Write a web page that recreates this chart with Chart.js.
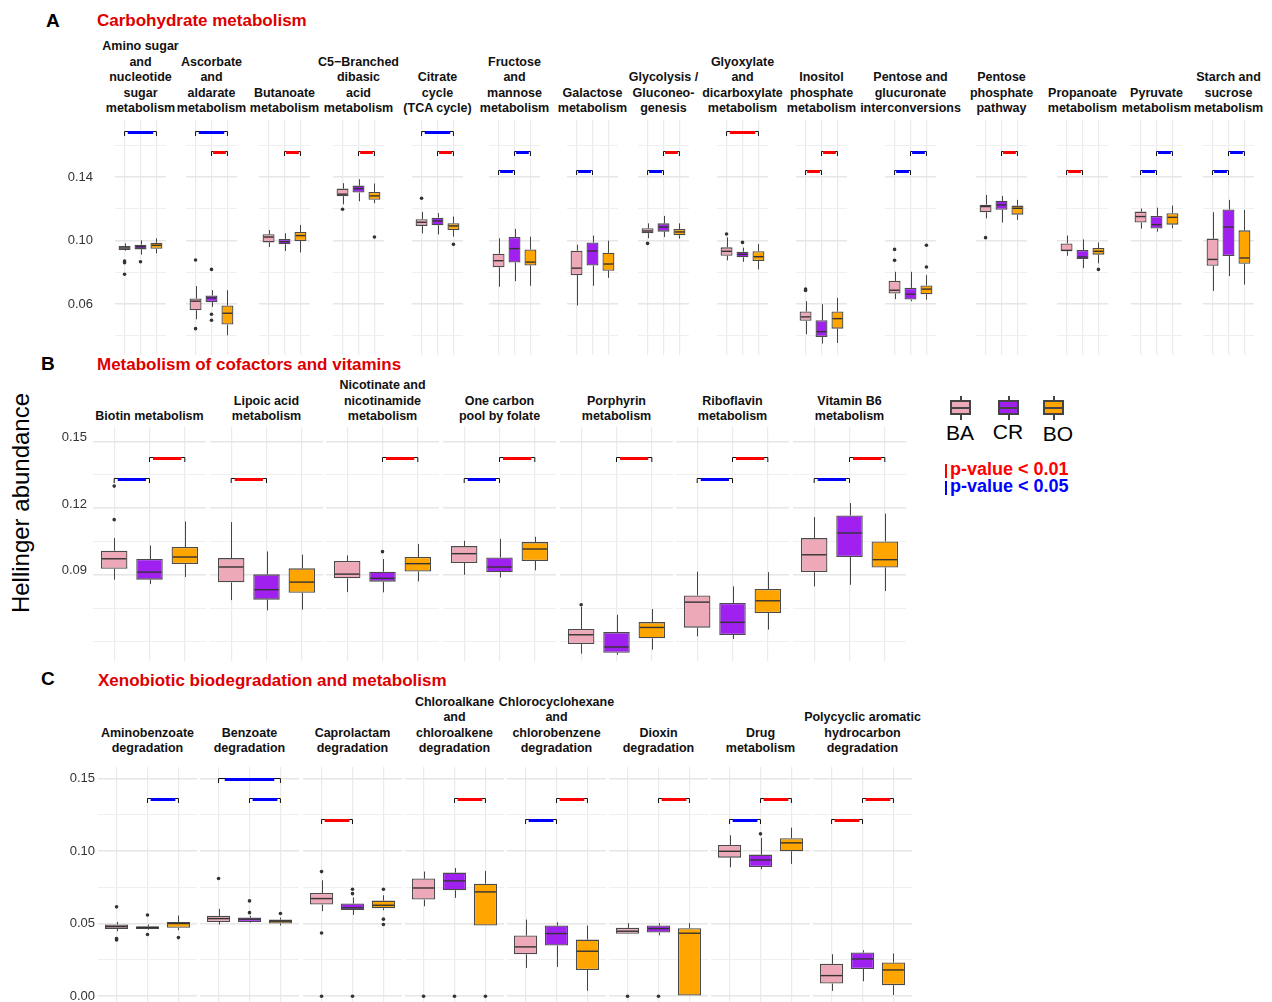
<!DOCTYPE html>
<html>
<head>
<meta charset="utf-8">
<title>Hellinger abundance of KEGG pathways</title>
<script src="https://cdn.jsdelivr.net/npm/chart.js@4.4.1/dist/chart.umd.min.js"></script>
<style>
  html, body { margin: 0; padding: 0; background: #fff; }
  #fig { position: relative; width: 1272px; height: 1002px; overflow: hidden;
         font-family: "Liberation Sans", Arial, sans-serif; color: #000; }
  #fig canvas { position: absolute; }
  .abs { position: absolute; white-space: nowrap; }
  .letter { font-weight: bold; font-size: 19px; line-height: 20px; }
  .ptitle { font-weight: bold; font-size: 17px; line-height: 20px; color: #dd0000; }
  .strip { position: absolute; width: 170px; text-align: center; font-weight: bold;
           font-size: 12.5px; line-height: 15.6px; white-space: pre-line; color: #111; }
  .ytitle { position: absolute; width: 300px; height: 28px; line-height: 28px; text-align: center;
            font-size: 24px; transform: rotate(-90deg); }
  .key { position: absolute; width: 21px; height: 24px; }
  .key .wh { position: absolute; left: 9.5px; top: 0; width: 2px; height: 24px; background: #444; }
  .key .bx { position: absolute; left: 0; top: 4px; width: 17px; height: 11px; border: 2px solid #444; }
  .key .md { position: absolute; left: 0; top: 10.5px; width: 21px; height: 2px; background: #444; }
  .klab { position: absolute; width: 50px; text-align: center; font-size: 21px; line-height: 24px; }
  .pval { position: absolute; font-weight: bold; font-size: 18px; line-height: 17px; white-space: nowrap; }
  .pbar { position: absolute; width: 2px; height: 14px; }
</style>
</head>
<body>
<div id="fig">
  <div class="abs letter" style="left:46px; top:11px;">A</div>
  <div class="abs ptitle" style="left:97px; top:11px;">Carbohydrate metabolism</div>
  <div class="abs letter" style="left:41px; top:354px;">B</div>
  <div class="abs ptitle" style="left:97px; top:355px;">Metabolism of cofactors and vitamins</div>
  <div class="abs letter" style="left:41px; top:669px;">C</div>
  <div class="abs ptitle" style="left:98px; top:671px;">Xenobiotic biodegradation and metabolism</div>
  <div class="ytitle" style="left:-129px; top:489px;">Hellinger abundance</div>

  <div class="key" style="left:950px; top:396px;"><div class="wh"></div><div class="bx" style="background:#EEA9B8;"></div><div class="md"></div></div>
  <div class="key" style="left:998px; top:396px;"><div class="wh"></div><div class="bx" style="background:#A020F0;"></div><div class="md"></div></div>
  <div class="key" style="left:1043px; top:396px;"><div class="wh"></div><div class="bx" style="background:#FFA500;"></div><div class="md"></div></div>
  <div class="klab" style="left:935px; top:421px;">BA</div>
  <div class="klab" style="left:983px; top:420px;">CR</div>
  <div class="klab" style="left:1033px; top:422px;">BO</div>
  <div class="pbar" style="left:945px; top:464px; background:#ff0000;"></div>
  <div class="pval" style="left:950px; top:461px; color:#ff0000;">p-value &lt; 0.01</div>
  <div class="pbar" style="left:945px; top:481px; background:#0000ff;"></div>
  <div class="pval" style="left:950px; top:478px; color:#0000ff;">p-value &lt; 0.05</div>
</div>

<script>
var GROUP_COLORS = ["#EEA9B8", "#A020F0", "#FFA500"];   // BA, CR, BO
var SIG_COLORS = { "0.01": "#ff0000", "0.05": "#0000ff" };

/* ---------- A: Carbohydrate metabolism ---------- */
var facetsA = [
  "Amino sugar\nand\nnucleotide\nsugar\nmetabolism", "Ascorbate\nand\naldarate\nmetabolism",
  "Butanoate\nmetabolism", "C5\u2212Branched\ndibasic\nacid\nmetabolism", "Citrate\ncycle\n(TCA cycle)",
  "Fructose\nand\nmannose\nmetabolism", "Galactose\nmetabolism", "Glycolysis /\nGluconeo-\ngenesis",
  "Glyoxylate\nand\ndicarboxylate\nmetabolism", "Inositol\nphosphate\nmetabolism",
  "Pentose and\nglucuronate\ninterconversions", "Pentose\nphosphate\npathway", "Propanoate\nmetabolism",
  "Pyruvate\nmetabolism", "Starch and\nsucrose\nmetabolism"
];
// [lower whisker, Q1, median, Q3, upper whisker]
var baA = [
  [0.0937, 0.0941, 0.0954, 0.0966, 0.0983], [0.0505, 0.0562, 0.0619, 0.0636, 0.0714],
  [0.0960, 0.0989, 0.1023, 0.1040, 0.1067], [0.1229, 0.1280, 0.1293, 0.1328, 0.1362],
  [0.1046, 0.1093, 0.1116, 0.1135, 0.1181], [0.0710, 0.0832, 0.0874, 0.0918, 0.1015],
  [0.0592, 0.0783, 0.0827, 0.0937, 0.0975], [0.1015, 0.1047, 0.1061, 0.1078, 0.1109],
  [0.0876, 0.0905, 0.0933, 0.0958, 0.1021], [0.0411, 0.0495, 0.0520, 0.0554, 0.0619],
  [0.0632, 0.0667, 0.0688, 0.0747, 0.0804], [0.1141, 0.1179, 0.1215, 0.1227, 0.1288],
  [0.0905, 0.0933, 0.0939, 0.0983, 0.1032], [0.1076, 0.1114, 0.1152, 0.1183, 0.1202],
  [0.0684, 0.0842, 0.0882, 0.1013, 0.1179]
];
var crA = [
  [0.0912, 0.0945, 0.0962, 0.0975, 0.1002], [0.0583, 0.0613, 0.0640, 0.0655, 0.0688],
  [0.0935, 0.0977, 0.0994, 0.1011, 0.1046], [0.1248, 0.1303, 0.1328, 0.1347, 0.1387],
  [0.1040, 0.1097, 0.1124, 0.1145, 0.1173], [0.0745, 0.0863, 0.0950, 0.1023, 0.1074],
  [0.0716, 0.0844, 0.0935, 0.0989, 0.1032], [0.1023, 0.1057, 0.1086, 0.1109, 0.1156],
  [0.0867, 0.0895, 0.0914, 0.0931, 0.0956], [0.0352, 0.0394, 0.0427, 0.0499, 0.0600],
  [0.0619, 0.0629, 0.0663, 0.0703, 0.0804], [0.1114, 0.1194, 0.1225, 0.1251, 0.1282],
  [0.0827, 0.0884, 0.0897, 0.0941, 0.1008], [0.1057, 0.1076, 0.1101, 0.1156, 0.1208],
  [0.0777, 0.0903, 0.1086, 0.1196, 0.1257]
];
var boA = [
  [0.0920, 0.0949, 0.0971, 0.0987, 0.1015], [0.0404, 0.0472, 0.0543, 0.0592, 0.0688],
  [0.0926, 0.0998, 0.1032, 0.1055, 0.1099], [0.1236, 0.1257, 0.1282, 0.1307, 0.1360],
  [0.1025, 0.1067, 0.1093, 0.1110, 0.1152], [0.0716, 0.0844, 0.0865, 0.0945, 0.1025],
  [0.0766, 0.0811, 0.0853, 0.0924, 0.1000], [0.1013, 0.1034, 0.1055, 0.1074, 0.1109],
  [0.0819, 0.0872, 0.0899, 0.0933, 0.0979], [0.0356, 0.0446, 0.0509, 0.0554, 0.0640],
  [0.0629, 0.0663, 0.0695, 0.0718, 0.0783], [0.1131, 0.1164, 0.1204, 0.1221, 0.1257],
  [0.0857, 0.0912, 0.0933, 0.0954, 0.0989], [0.1078, 0.1101, 0.1147, 0.1173, 0.1221],
  [0.0724, 0.0855, 0.0891, 0.1065, 0.1194]
];
// outliers as [facet, value]
var outBA_A = [[0, 0.0872], [0, 0.0861], [0, 0.0789], [1, 0.0878], [1, 0.0446], [3, 0.1198], [4, 0.1267],
  [7, 0.0983], [8, 0.1042], [9, 0.0695], [9, 0.0686], [10, 0.0945], [10, 0.0876], [11, 0.1019]];
var outCR_A = [[0, 0.0867], [1, 0.0819], [1, 0.0537], [1, 0.0499], [8, 0.0989]];
var outBO_A = [[3, 0.1023], [4, 0.0977], [10, 0.0971], [10, 0.0834], [12, 0.0819]];
// significance: [facet, from group, to group, bracket height, p]
var sigA = [
  [0, 1, 3, 0.1693, "0.05"], [1, 1, 3, 0.1693, "0.05"], [1, 2, 3, 0.1567, "0.01"], [2, 2, 3, 0.1567, "0.01"],
  [3, 2, 3, 0.1567, "0.01"], [4, 1, 3, 0.1693, "0.05"], [4, 2, 3, 0.1567, "0.01"], [5, 1, 2, 0.1446, "0.05"],
  [5, 2, 3, 0.1567, "0.05"], [6, 1, 2, 0.1446, "0.05"], [7, 1, 2, 0.1446, "0.05"], [7, 2, 3, 0.1567, "0.01"],
  [8, 1, 3, 0.1693, "0.01"], [9, 1, 2, 0.1446, "0.01"], [9, 2, 3, 0.1567, "0.01"], [10, 1, 2, 0.1446, "0.05"],
  [10, 2, 3, 0.1567, "0.05"], [11, 2, 3, 0.1567, "0.01"], [12, 1, 2, 0.1446, "0.01"], [13, 1, 2, 0.1446, "0.05"],
  [13, 2, 3, 0.1567, "0.05"], [14, 1, 2, 0.1446, "0.05"], [14, 2, 3, 0.1567, "0.05"]
];
var yGridA = [0.04, 0.06, 0.08, 0.10, 0.12, 0.14, 0.16];
var yTicksA = [0.06, 0.10, 0.14];
var yRangeA = [0.028, 0.176];

/* ---------- B: Metabolism of cofactors and vitamins ---------- */
var facetsB = [
  "Biotin metabolism", "Lipoic acid\nmetabolism", "Nicotinate and\nnicotinamide\nmetabolism",
  "One carbon\npool by folate", "Porphyrin\nmetabolism", "Riboflavin\nmetabolism", "Vitamin B6\nmetabolism"
];
var baB = [
  [0.0878, 0.0927, 0.0972, 0.1008, 0.1065], [0.0786, 0.0866, 0.0935, 0.0975, 0.1137],
  [0.0822, 0.0884, 0.0903, 0.0962, 0.0987], [0.0900, 0.0953, 0.0995, 0.1029, 0.1053],
  [0.0545, 0.0588, 0.0630, 0.0656, 0.0755], [0.0623, 0.0662, 0.0777, 0.0807, 0.0914],
  [0.0848, 0.0912, 0.0990, 0.1065, 0.1160]
];
var crB = [
  [0.0858, 0.0878, 0.0912, 0.0971, 0.1032], [0.0740, 0.0788, 0.0833, 0.0902, 0.1005],
  [0.0821, 0.0869, 0.0884, 0.0914, 0.0971], [0.0888, 0.0911, 0.0935, 0.0978, 0.1062],
  [0.0540, 0.0549, 0.0575, 0.0642, 0.0720], [0.0611, 0.0629, 0.0686, 0.0773, 0.0848],
  [0.0855, 0.0980, 0.1088, 0.1167, 0.1223]
];
var boB = [
  [0.0890, 0.0948, 0.0980, 0.1025, 0.1140], [0.0743, 0.0819, 0.0867, 0.0929, 0.0990],
  [0.0870, 0.0915, 0.0950, 0.0980, 0.1038], [0.0920, 0.0962, 0.1016, 0.1047, 0.1071],
  [0.0563, 0.0614, 0.0663, 0.0687, 0.0746], [0.0653, 0.0728, 0.0783, 0.0836, 0.0912],
  [0.0827, 0.0933, 0.0968, 0.1050, 0.1175]
];
var outBA_B = [[0, 0.1299], [0, 0.1148], [4, 0.0765]];
var outCR_B = [[2, 0.1004]];
var outBO_B = [];
var sigB = [
  [0, 1, 2, 0.1335, "0.05"], [0, 2, 3, 0.1428, "0.01"], [1, 1, 2, 0.1335, "0.01"], [2, 2, 3, 0.1428, "0.01"],
  [3, 1, 2, 0.1335, "0.05"], [3, 2, 3, 0.1428, "0.01"], [4, 2, 3, 0.1428, "0.01"], [5, 1, 2, 0.1335, "0.05"],
  [5, 2, 3, 0.1428, "0.01"], [6, 1, 2, 0.1335, "0.05"], [6, 2, 3, 0.1428, "0.01"]
];
var yGridB = [0.06, 0.075, 0.09, 0.105, 0.12, 0.135, 0.15];
var yTicksB = [0.09, 0.12, 0.15];
var yRangeB = [0.0512, 0.1565];

/* ---------- C: Xenobiotic biodegradation and metabolism ---------- */
var facetsC = [
  "Aminobenzoate\ndegradation", "Benzoate\ndegradation", "Caprolactam\ndegradation",
  "Chloroalkane\nand\nchloroalkene\ndegradation", "Chlorocyclohexane\nand\nchlorobenzene\ndegradation",
  "Dioxin\ndegradation", "Drug\nmetabolism", "Polycyclic aromatic\nhydrocarbon\ndegradation"
];
var baC = [
  [0.0448, 0.0464, 0.0480, 0.0494, 0.0512], [0.0494, 0.0512, 0.0535, 0.0554, 0.0602],
  [0.0586, 0.0632, 0.0673, 0.0712, 0.0799], [0.0620, 0.0666, 0.0746, 0.0811, 0.0859],
  [0.0195, 0.0289, 0.0340, 0.0418, 0.0528], [0.0430, 0.0430, 0.0448, 0.0471, 0.0503],
  [0.0889, 0.0955, 0.0999, 0.1043, 0.1109], [0.0037, 0.0087, 0.0142, 0.0223, 0.0289]
];
var crC = [
  [0.0459, 0.0464, 0.0473, 0.0482, 0.0494], [0.0508, 0.0512, 0.0531, 0.0542, 0.0554],
  [0.0560, 0.0595, 0.0609, 0.0639, 0.0680], [0.0678, 0.0730, 0.0795, 0.0852, 0.0884],
  [0.0202, 0.0349, 0.0432, 0.0487, 0.0510], [0.0420, 0.0439, 0.0466, 0.0487, 0.0503],
  [0.0875, 0.0891, 0.0939, 0.0976, 0.1091], [0.0103, 0.0188, 0.0257, 0.0301, 0.0317]
];
var boC = [
  [0.0455, 0.0471, 0.0501, 0.0512, 0.0556], [0.0487, 0.0501, 0.0517, 0.0528, 0.0542],
  [0.0593, 0.0606, 0.0627, 0.0659, 0.0696], [0.0487, 0.0487, 0.0719, 0.0776, 0.0864],
  [0.0037, 0.0181, 0.0310, 0.0390, 0.0487], [0.0000, 0.0000, 0.0434, 0.0469, 0.0503],
  [0.0912, 0.0999, 0.1057, 0.1089, 0.1162], [0.0009, 0.0076, 0.0181, 0.0232, 0.0294]
];
var outBA_C = [[0, 0.0616], [0, 0.0397], [0, 0.0388], [1, 0.0811], [2, 0.0859], [2, 0.0436], [2, 0], [3, 0], [5, 0]];
var outCR_C = [[0, 0.0560], [0, 0.0425], [1, 0.0657], [1, 0.0576], [2, 0.0737], [2, 0.0707], [2, 0], [3, 0],
  [5, 0], [6, 0.1119]];
var outBO_C = [[0, 0.0404], [1, 0.0570], [2, 0.0737], [2, 0.0531], [2, 0.0494], [3, 0]];
var sigC = [
  [0, 2, 3, 0.1364, "0.05"], [1, 1, 3, 0.1504, "0.05"], [1, 2, 3, 0.1364, "0.05"], [2, 1, 2, 0.1222, "0.01"],
  [3, 2, 3, 0.1364, "0.01"], [4, 1, 2, 0.1222, "0.05"], [4, 2, 3, 0.1364, "0.01"], [5, 2, 3, 0.1364, "0.01"],
  [6, 1, 2, 0.1222, "0.05"], [6, 2, 3, 0.1364, "0.01"], [7, 1, 2, 0.1222, "0.01"], [7, 2, 3, 0.1364, "0.01"]
];
var yGridC = [0, 0.025, 0.05, 0.075, 0.10, 0.125, 0.15];
var yTicksC = [0, 0.05, 0.10, 0.15];
var yRangeC = [-0.004, 0.158];

/* ---------- page layout of the facet panels ---------- */
var layoutA = { lefts: [115, 186, 259, 333, 412, 489, 567, 638, 717, 796, 885, 976, 1057, 1131, 1203],
  width: 51, top: 120, height: 235, stripBottom: 117, axisWidth: 50, axisPad: 22, labelShift: 0 };
var layoutB = { lefts: [93, 210, 326, 443, 560, 676, 793],
  width: 113, top: 427, height: 234, stripBottom: 425, axisWidth: 40, axisPad: 6, labelShift: -4 };
var layoutC = { lefts: [98, 200, 303, 405, 507, 609, 711, 813],
  width: 99, top: 767, height: 235, stripBottom: 757, axisWidth: 40, axisPad: 3, labelShift: 0 };

var fig = document.getElementById("fig");

function near(list, v) {
  for (var i = 0; i < list.length; i++) {
    if (Math.abs(list[i] - v) < 1e-9) return true;
  }
  return false;
}

// whiskers under the boxes, medians and significance brackets above them
var boxParts = {
  id: "boxParts",
  beforeDatasetsDraw: function (chart) {
    var ds = chart.data.datasets[0];
    var xs = chart.scales.x, ys = chart.scales.y, ctx = chart.ctx;
    ctx.save();
    ctx.strokeStyle = "#444";
    ctx.lineWidth = 1;
    for (var g = 0; g < ds.stats.length; g++) {
      var s = ds.stats[g];
      var x = Math.round(xs.getPixelForValue(g + 1)) + 0.5;
      ctx.beginPath();
      ctx.moveTo(x, ys.getPixelForValue(s[4]));
      ctx.lineTo(x, ys.getPixelForValue(s[3]));
      ctx.moveTo(x, ys.getPixelForValue(s[1]));
      ctx.lineTo(x, ys.getPixelForValue(s[0]));
      ctx.stroke();
    }
    ctx.restore();
  },
  afterDatasetsDraw: function (chart) {
    var ds = chart.data.datasets[0];
    var meta = chart.getDatasetMeta(0);
    var xs = chart.scales.x, ys = chart.scales.y, ctx = chart.ctx;
    ctx.save();
    ctx.strokeStyle = "#333";
    ctx.lineWidth = 1.4;
    for (var g = 0; g < ds.stats.length; g++) {
      var bar = meta.data[g];
      var y = ys.getPixelForValue(ds.stats[g][2]);
      ctx.beginPath();
      ctx.moveTo(bar.x - bar.width / 2 + 1, y);
      ctx.lineTo(bar.x + bar.width / 2 - 1, y);
      ctx.stroke();
    }
    for (var k = 0; k < ds.sig.length; k++) {
      var sg = ds.sig[k];
      var x1 = xs.getPixelForValue(sg[1]);
      var x2 = xs.getPixelForValue(sg[2]);
      var yb = Math.round(ys.getPixelForValue(sg[3])) + 0.5;
      ctx.strokeStyle = "#111";
      ctx.lineWidth = 1;
      ctx.beginPath();
      ctx.moveTo(x1, yb + 4.5);
      ctx.lineTo(x1, yb);
      ctx.lineTo(x2, yb);
      ctx.lineTo(x2, yb + 4.5);
      ctx.stroke();
      var inset = (x2 - x1) * 0.1;
      ctx.strokeStyle = SIG_COLORS[sg[4]];
      ctx.lineWidth = 3;
      ctx.beginPath();
      ctx.moveTo(x1 + inset, yb + 1);
      ctx.lineTo(x2 - inset, yb + 1);
      ctx.stroke();
    }
    ctx.restore();
  }
};

function drawPanel(facets, ba, cr, bo, outs, sig, grid, ticks, range, L) {
  for (var f = 0; f < facets.length; f++) {
    var stats = [ba[f], cr[f], bo[f]];
    var boxes = stats.map(function (s, g) { return { x: g + 1, y: [s[1], s[3]] }; });
    var points = [];
    outs.forEach(function (list, g) {
      list.forEach(function (o) { if (o[0] === f) points.push({ x: g + 1, y: o[1] }); });
    });
    var facetSig = sig.filter(function (s) { return s[0] === f; });
    var showAxis = f === 0;
    var axisW = showAxis ? L.axisWidth : 0;

    var canvas = document.createElement("canvas");
    canvas.width = L.width + axisW;
    canvas.height = L.height;
    canvas.style.left = (L.lefts[f] - axisW) + "px";
    canvas.style.top = L.top + "px";
    canvas.style.width = canvas.width + "px";
    canvas.style.height = canvas.height + "px";
    fig.appendChild(canvas);

    new Chart(canvas.getContext("2d"), {
      type: "bar",
      data: {
        datasets: [
          { type: "bar", data: boxes, stats: stats, sig: facetSig,
            backgroundColor: GROUP_COLORS, borderColor: "#4a4a4a", borderWidth: 1.3,
            borderSkipped: false, barPercentage: 0.75, categoryPercentage: 1 },
          { type: "scatter", data: points, pointRadius: 1.8, pointBackgroundColor: "#333",
            pointBorderWidth: 0 }
        ]
      },
      options: {
        responsive: false,
        animation: false,
        devicePixelRatio: 1,
        events: [],
        layout: { padding: 0, autoPadding: false },
        plugins: { legend: { display: false }, tooltip: { enabled: false } },
        scales: {
          x: {
            type: "linear", min: 0.4, max: 3.6, offset: false,
            afterBuildTicks: function (axis) { axis.ticks = [{ value: 1 }, { value: 2 }, { value: 3 }]; },
            ticks: { display: false },
            grid: { offset: false, drawTicks: false, color: "#ebebeb", lineWidth: 1.2 },
            border: { display: false }
          },
          y: {
            type: "linear", min: range[0], max: range[1],
            afterBuildTicks: function (axis) { axis.ticks = grid.map(function (v) { return { value: v }; }); },
            afterFit: function (axis) {
              axis.width = axisW;
              axis.paddingTop = 0;
              axis.paddingBottom = 0;
            },
            ticks: {
              display: showAxis, autoSkip: false, padding: L.axisPad, color: "#333",
              labelOffset: L.labelShift,
              font: { family: "'Liberation Sans Narrow', 'Liberation Sans', Arial", size: 13 },
              callback: function (v) { return near(ticks, v) ? v.toFixed(2) : ""; }
            },
            grid: {
              drawTicks: false,
              color: function (c) { return c.tick && near(ticks, c.tick.value) ? "#e6e6e6" : "#efefef"; },
              lineWidth: function (c) { return c.tick && near(ticks, c.tick.value) ? 1.4 : 1; }
            },
            border: { display: false }
          }
        }
      },
      plugins: [boxParts]
    });

    // facet strip title, bottom-aligned above the panel
    var strip = document.createElement("div");
    var lines = facets[f].split("\n").length;
    strip.className = "strip";
    strip.textContent = facets[f];
    strip.style.left = (L.lefts[f] + L.width / 2 - 85) + "px";
    strip.style.top = (L.stripBottom - lines * 15.6) + "px";
    fig.appendChild(strip);
  }
}

drawPanel(facetsA, baA, crA, boA, [outBA_A, outCR_A, outBO_A], sigA, yGridA, yTicksA, yRangeA, layoutA);
drawPanel(facetsB, baB, crB, boB, [outBA_B, outCR_B, outBO_B], sigB, yGridB, yTicksB, yRangeB, layoutB);
drawPanel(facetsC, baC, crC, boC, [outBA_C, outCR_C, outBO_C], sigC, yGridC, yTicksC, yRangeC, layoutC);
</script>
</body>
</html>
